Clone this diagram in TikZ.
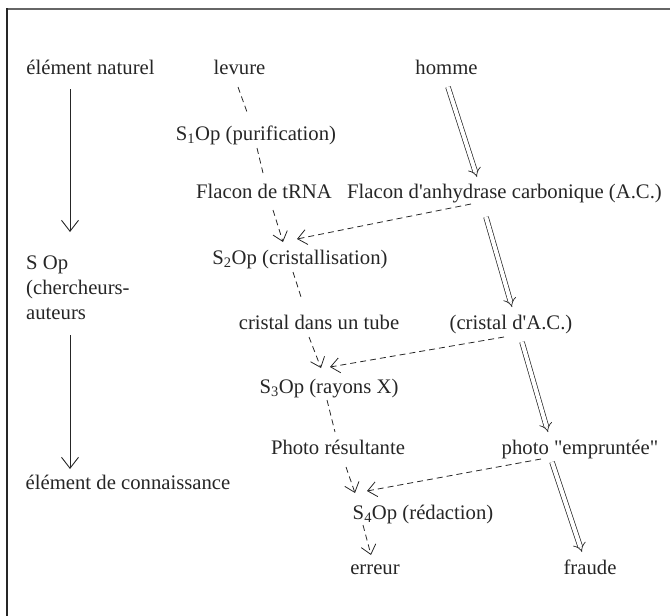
\documentclass[tikz,border=0pt]{standalone}
\usepackage{fontspec}
\setmainfont{Liberation Serif}[Ligatures=TeXOff]
\usetikzlibrary{arrows.meta}
\definecolor{ink}{HTML}{262626}
\begin{document}
\begin{tikzpicture}[x=1pt,y=-1pt,
  every node/.style={font=\fontsize{20.7}{25}\selectfont, inner sep=0pt, text height=13pt, text depth=0pt, text=ink},
  lbl/.style={anchor=center},
  lft/.style={anchor=west},
  dsh/.style={draw=ink, line width=0.8pt, dash pattern=on 6pt off 4pt},
  dsharrow/.style={dsh, -{Straight Barb[length=9pt,width=15pt,line width=0.8pt]}},
  dbl/.style={draw=ink, double, double distance=4pt, line width=0.7pt, -{Implies[scale=1.6]}},
  solidarrow/.style={draw=ink, line width=0.9pt, -{Straight Barb[length=11pt,width=17pt]}}
]
\useasboundingbox (0,0) rectangle (670,616);
% frame
\draw[line width=2pt, black!60] (6,9) -- (670,9);
\draw[line width=2pt, black!85] (7,8) -- (7,616);

% left column
\node[lbl] (nat) at (90.5,68) {élément naturel};
\node[lft] (sop1) at (26,263) {S Op};
\node[lft] (sop2) at (26,288) {(chercheurs-};
\node[lft] (sop3) at (26,313) {auteurs};
\node[lbl] (con) at (128,483) {élément de connaissance};

% main nodes
\node[lbl] (lev) at (239.5,68) {levure};
\node[lbl] (hom) at (446.5,68) {homme};
\node[lbl] (s1) at (256,134) {S\textsubscript{1}Op (purification)};
\node[lbl] (ftr) at (264,192) {Flacon de tRNA};
\node[lbl] (fac) at (504.5,192) {Flacon d'anhydrase carbonique (A.C.)};
\node[lbl] (s2) at (300,258) {S\textsubscript{2}Op (cristallisation)};
\node[lbl] (ctu) at (319,323) {cristal dans un tube};
\node[lbl] (cac) at (511,323) {(cristal d'A.C.)};
\node[lbl] (s3) at (329,387) {S\textsubscript{3}Op (rayons X)};
\node[lbl] (phr) at (338,448) {Photo résultante};
\node[lbl] (phe) at (580,448) {photo "empruntée"};
\node[lbl] (s4) at (423,513) {S\textsubscript{4}Op (rédaction)};
\node[lbl] (err) at (375,568) {erreur};
\node[lbl] (fra) at (590,568) {fraude};

% left arrows
\draw[solidarrow] ([shift={(-20.5,21)}]nat.center) -- ([shift={(44,-31)}]sop1.west);
\draw[solidarrow] ([shift={(44,22)}]sop3.west) -- ([shift={(-58,-14)}]con.center);

% dashed path (erreur)
\draw[dsh] ([shift={(-1.5,19)}]lev.center) -- ([shift={(-9,-22)}]s1.center);
\draw[dsh] ([shift={(1,14)}]s1.center) -- ([shift={(-1,-19)}]ftr.center);
\draw[dsharrow] ([shift={(9,18)}]ftr.center) -- ([shift={(-17,-16)}]s2.center);
\draw[dsharrow] ([shift={(-33.5,12)}]fac.center) -- ([shift={(-3,-19)}]s2.center);
\draw[dsh] ([shift={(-7,14)}]s2.center) -- ([shift={(-17,-23)}]ctu.center);
\draw[dsharrow] ([shift={(-10,14)}]ctu.center) -- ([shift={(-8,-19)}]s3.center);
\draw[dsharrow] ([shift={(-7,14)}]cac.center) -- ([shift={(1,-20)}]s3.center);
\draw[dsh] ([shift={(-2,13)}]s3.center) -- ([shift={(-3,-16)}]phr.center);
\draw[dsharrow] ([shift={(8,19)}]phr.center) -- ([shift={(-68,-20)}]s4.center);
\draw[dsharrow] ([shift={(-39,11)}]phe.center) -- ([shift={(-56,-22)}]s4.center);
\draw[dsharrow] ([shift={(-60,12)}]s4.center) -- ([shift={(-4,-13)}]err.center);

% double path (fraude)
\draw[dbl] ([shift={(1.5,19)}]hom.center) -- ([shift={(-27.5,-15)}]fac.center);
\draw[dbl] ([shift={(-18.5,25)}]fac.center) -- ([shift={(1,-16)}]cac.center);
\draw[dbl] ([shift={(11,19)}]cac.center) -- ([shift={(-32,-16)}]phe.center);
\draw[dbl] ([shift={(-28,14)}]phe.center) -- ([shift={(-8,-16)}]fra.center);
\end{tikzpicture}
\end{document}
